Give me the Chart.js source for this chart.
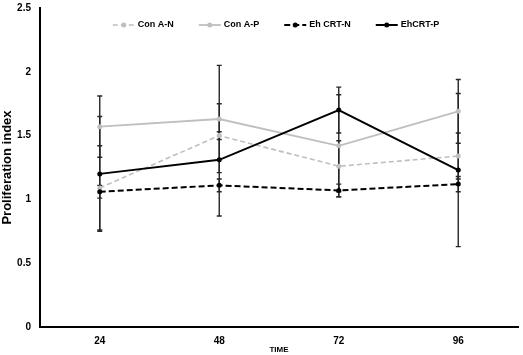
<!DOCTYPE html>
<html lang="en">
<head>
    <meta charset="UTF-8">
    <title>Proliferation index</title>
    <script src="https://cdn.jsdelivr.net/npm/chart.js"></script>
    <style>
        html, body { margin: 0; padding: 0; background: #fff; }
        #wrap { width: 523px; height: 355px; }
    </style>
</head>
<body>
    <div id="wrap"><canvas id="prolifChart"></canvas></div>
    <script>
        // data
        const timeLabels = ['24', '48', '72', '96'];
        const seriesNames = ['Con A-N', 'Con A-P', 'Eh CRT-N', 'EhCRT-P'];
        const conAN = [1.09, 1.50, 1.26, 1.34];
        const conAP = [1.57, 1.63, 1.42, 1.69];
        const ehCrtN = [1.06, 1.11, 1.07, 1.12];
        const ehCrtP = [1.20, 1.31, 1.70, 1.23];
        // error bar half-lengths
        const conANErr = [0.33, 0.03, 0.20, 0.18];
        const conAPErr = [0.24, 0.42, 0.40, 0.25];
        const ehCrtNErr = [0.05, 0.05, 0.05, 0.06];
        const ehCrtPErr = [0.45, 0.44, 0.18, 0.60];
        const yTicks = [0, 0.5, 1, 1.5, 2, 2.5];

        const FONT = "'Liberation Sans', Arial, sans-serif";
        const grey = '#bfbfbf';

        function makeSet(label, data, errs, color, dash, width, order) {
            return {
                label: label,
                data: data,
                errors: errs,
                borderColor: color,
                backgroundColor: color,
                borderWidth: width,
                borderDash: dash,
                pointRadius: 2.5,
                pointBorderWidth: 0,
                pointBackgroundColor: color,
                tension: 0,
                fill: false,
                order: order
            };
        }

        // error bars drawn under the lines
        const errorBars = {
            id: 'errorBars',
            beforeDatasetsDraw(chart) {
                const ctx = chart.ctx;
                const xs = chart.scales.x, ys = chart.scales.y;
                ctx.save();
                ctx.strokeStyle = '#262626';
                ctx.lineWidth = 1.4;
                chart.data.datasets.forEach(ds => {
                    ds.data.forEach((v, i) => {
                        const x = xs.getPixelForValue(i);
                        const top = ys.getPixelForValue(v + ds.errors[i]);
                        const bot = ys.getPixelForValue(v - ds.errors[i]);
                        ctx.beginPath();
                        ctx.moveTo(x, top); ctx.lineTo(x, bot);
                        ctx.moveTo(x - 2.5, top); ctx.lineTo(x + 2.5, top);
                        ctx.moveTo(x - 2.5, bot); ctx.lineTo(x + 2.5, bot);
                        ctx.stroke();
                    });
                });
                ctx.restore();
            }
        };

        // legend inside the plot, line sample with a marker in the middle
        const insideLegend = {
            id: 'insideLegend',
            afterDraw(chart) {
                const ctx = chart.ctx;
                const area = chart.chartArea;
                const sample = 22, gapText = 3, gapItem = 25;
                ctx.save();
                ctx.font = 'bold 9px ' + FONT;
                ctx.textBaseline = 'middle';
                const sets = chart.data.datasets;
                let total = 0;
                sets.forEach((ds, i) => {
                    total += sample + gapText + ctx.measureText(ds.label).width;
                    if (i < sets.length - 1) total += gapItem;
                });
                let x = (area.left + area.right) / 2 - 3 - total / 2;
                const y = area.top + 17;
                sets.forEach(ds => {
                    ctx.strokeStyle = ds.borderColor;
                    ctx.lineWidth = ds.borderWidth;
                    ctx.setLineDash(ds.borderDash || []);
                    ctx.beginPath();
                    ctx.moveTo(x, y); ctx.lineTo(x + sample, y);
                    ctx.stroke();
                    ctx.setLineDash([]);
                    ctx.fillStyle = ds.borderColor;
                    ctx.beginPath();
                    ctx.arc(x + sample / 2, y, 2.5, 0, Math.PI * 2);
                    ctx.fill();
                    x += sample + gapText;
                    ctx.fillStyle = '#000';
                    ctx.fillText(ds.label, x, y);
                    x += ctx.measureText(ds.label).width + gapItem;
                });
                ctx.restore();
            }
        };

        new Chart(document.getElementById('prolifChart'), {
            type: 'line',
            data: {
                labels: timeLabels,
                datasets: [
                    makeSet(seriesNames[0], conAN, conANErr, grey, [5, 3], 1.6, 4),
                    makeSet(seriesNames[1], conAP, conAPErr, grey, [], 1.8, 3),
                    makeSet(seriesNames[2], ehCrtN, ehCrtNErr, '#000', [6, 3], 2, 2),
                    makeSet(seriesNames[3], ehCrtP, ehCrtPErr, '#000', [], 2, 1)
                ]
            },
            options: {
                responsive: true,
                maintainAspectRatio: false,
                animation: false,
                layout: { padding: { top: 8, right: 5, left: 0, bottom: 0 } },
                plugins: {
                    legend: { display: false },
                    tooltip: { enabled: false }
                },
                scales: {
                    x: {
                        offset: true,
                        grid: { display: false, drawTicks: false },
                        border: { display: true, color: '#000', width: 2 },
                        ticks: { color: '#000', padding: 8, font: { family: FONT, size: 10, weight: 'bold' } },
                        title: { display: true, text: 'TIME', color: '#000', padding: 0, font: { family: FONT, size: 8, weight: 'bold' } },
                        afterFit(scale) { scale.height = 28; }
                    },
                    y: {
                        min: yTicks[0],
                        max: yTicks[yTicks.length - 1],
                        grid: { display: false, drawTicks: false },
                        border: { display: true, color: '#000', width: 2 },
                        afterBuildTicks(scale) { scale.ticks = yTicks.map(v => ({ value: v })); },
                        ticks: {
                            color: '#000', padding: 9,
                            font: { family: FONT, size: 10, weight: 'bold' },
                            callback: v => String(v)
                        },
                        title: { display: true, text: 'Proliferation index', color: '#000', padding: 0, font: { family: FONT, size: 13, weight: 'bold' } },
                        afterFit(scale) {
                            scale.width = 40;
                            scale.paddingTop = 0;
                            scale.paddingBottom = 0;
                        }
                    }
                }
            },
            plugins: [errorBars, insideLegend]
        });
    </script>
</body>
</html>
